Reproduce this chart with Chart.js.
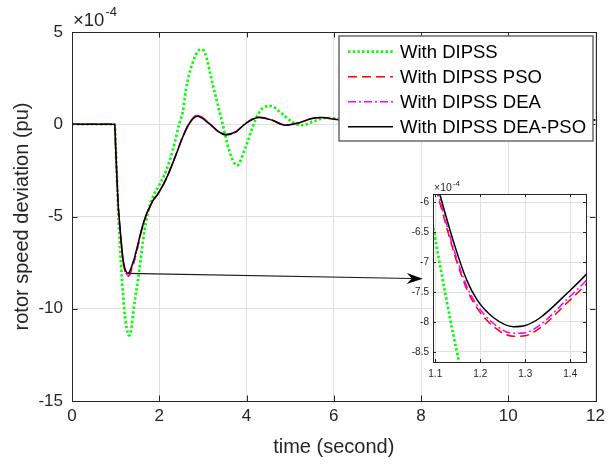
<!DOCTYPE html>
<html><head><meta charset="utf-8">
<script src="https://cdn.jsdelivr.net/npm/chart.js@4.4.0/dist/chart.umd.min.js"></script>
<style>
html,body{margin:0;padding:0;background:#fff;}
#wrap{position:relative;width:610px;height:464px;overflow:hidden;}
#main{position:absolute;left:0;top:0;}
#inset{position:absolute;left:395px;top:175px;}
</style></head><body>
<div id="wrap"><canvas id="main" width="610" height="464"></canvas><canvas id="inset" width="205" height="210"></canvas></div>
<script>
// ---- data (values in units of 1e-4 pu) ----
const seriesNames = ['With DIPSS', 'With DIPSS PSO', 'With DIPSS DEA', 'With DIPSS DEA-PSO'];

const tDipss = [0, 0.98, 1.0, 1.03, 1.06, 1.096, 1.152, 1.2, 1.25, 1.31, 1.36, 1.40, 1.45, 1.51, 1.59,
  1.66, 1.75, 1.85, 2.0, 2.16, 2.31, 2.46, 2.54, 2.61, 2.76, 2.95, 3.05, 3.22, 3.45, 3.6,
  3.78, 3.98, 4.2, 4.36, 4.55, 4.81, 5.04, 5.26, 5.57, 5.8, 6.1, 6.5, 7, 7.5, 8, 9, 10, 11, 12];
const vDipss = [0, 0, -1.1, -2.9, -4.8, -6.44, -8.64, -10.1, -11.0, -11.45, -11.1, -10.3, -9.4, -8.48, -7.03,
  -5.76, -4.7, -3.95, -3.3, -2.5, -1.41, 0.04, 0.67, 1.85, 3.3, 4.06, 3.85, 2.21, 0.04, -1.41,
  -2.23, -1.23, 0.22, 0.85, 0.98, 0.58, 0.13, -0.05, 0.18, 0.34, 0.3, 0.15, 0.1, 0.2, 0.28, 0.2, 0.25, 0.24, 0.23];

const tOpt = [0, 0.98, 1.0, 1.03, 1.06, 1.085, 1.11, 1.144, 1.17, 1.193, 1.23, 1.274, 1.30, 1.333, 1.393, 1.436,
  1.5, 1.6, 1.7, 1.78, 1.85, 1.97, 2.16, 2.35, 2.54, 2.69, 2.87, 3.14, 3.37, 3.52, 3.75, 3.98,
  4.28, 4.59, 4.89, 5.19, 5.5, 5.72, 6.03, 6.5, 7, 7.5, 8, 9, 10, 11, 12];
const vPso = [0, 0, -1.3, -3.0, -4.5, -5.3, -6.0, -6.9, -7.45, -7.77, -8.08, -8.24, -8.23, -8.1, -7.68, -7.36,
  -6.75, -5.72, -4.95, -4.52, -4.17, -3.78, -2.96, -1.86, -0.66, 0.08, 0.5, 0.07, -0.43, -0.58, -0.43, 0.05,
  0.39, 0.22, -0.06, 0.07, 0.31, 0.36, 0.27, 0.12, 0.15, 0.25, 0.28, 0.22, 0.25, 0.24, 0.23];
const vDea = [0, 0, -1.25, -2.95, -4.45, -5.25, -5.95, -6.85, -7.4, -7.72, -8.03, -8.19, -8.18, -8.05, -7.62, -7.3,
  -6.7, -5.7, -4.93, -4.5, -4.16, -3.77, -2.95, -1.85, -0.66, 0.07, 0.47, 0.06, -0.42, -0.57, -0.42, 0.05,
  0.38, 0.22, -0.05, 0.07, 0.31, 0.36, 0.27, 0.12, 0.15, 0.25, 0.28, 0.22, 0.25, 0.24, 0.23];
const vDeaPso = [0, 0, -1.2, -2.9, -4.4, -5.15, -5.86, -6.74, -7.3, -7.63, -7.93, -8.08, -8.06, -7.93, -7.52, -7.2,
  -6.6, -5.65, -4.9, -4.49, -4.15, -3.77, -2.95, -1.86, -0.69, 0.04, 0.43, 0.04, -0.42, -0.56, -0.42, 0.04,
  0.37, 0.22, -0.05, 0.07, 0.31, 0.36, 0.27, 0.12, 0.15, 0.25, 0.28, 0.22, 0.25, 0.24, 0.23];

const xTicksMain = [0, 2, 4, 6, 8, 10, 12];
const yTicksMain = [-15, -10, -5, 0, 5];
const xTicksInset = [1.1, 1.2, 1.3, 1.4];
const yTicksInset = [-6, -6.5, -7, -7.5, -8, -8.5];
const mainRangeX = [0, 12], mainRangeY = [-15, 5];
const insetRangeX = [1.095, 1.435], insetRangeY = [-8.67, -5.86];
const arrowFrom = [1.27, -8.08], arrowTo = [8.04, -8.37];
const exponentLabel = ['\u00d710', '-4'];

// ---- styles ----
const FONT = 'Liberation Sans, Arial, Helvetica, sans-serif';
const AX = '#262626';
const GRID = '#e0e0e0';
const styles = [
  {color: '#00ff00', width: 2.7, dash: [2.4, 2.3], order: 4},
  {color: '#ff0000', width: 1.5, dash: [9, 5], order: 3},
  {color: '#ff00ff', width: 1.5, dash: [8, 3, 2, 3], order: 2},
  {color: '#000000', width: 1.5, dash: [], order: 1}
];

function makeDatasets() {
  const xs = [tDipss, tOpt, tOpt, tOpt];
  const ys = [vDipss, vPso, vDea, vDeaPso];
  return seriesNames.map((name, k) => ({
    label: name,
    data: xs[k].map((x, i) => ({x: x, y: ys[k][i]})),
    borderColor: styles[k].color,
    backgroundColor: styles[k].color,
    borderWidth: styles[k].width,
    borderDash: styles[k].dash,
    borderCapStyle: 'butt',
    pointRadius: 0,
    fill: false,
    cubicInterpolationMode: 'monotone',
    order: styles[k].order
  }));
}

function framePlugin(id, tickLen, fillWhite) {
  return {
    id: id,
    beforeDraw(chart) {
      if (!fillWhite) return;
      const a = chart.chartArea, ctx = chart.ctx;
      ctx.save(); ctx.fillStyle = '#ffffff';
      ctx.fillRect(a.left, a.top, a.right - a.left, a.bottom - a.top);
      ctx.restore();
    },
    afterDatasetsDraw(chart) {
      const ctx = chart.ctx, a = chart.chartArea, sx = chart.scales.x, sy = chart.scales.y;
      ctx.save();
      ctx.strokeStyle = AX; ctx.lineWidth = 1; ctx.setLineDash([]);
      ctx.beginPath();
      sx.ticks.forEach(t => {
        const p = Math.round(sx.getPixelForValue(t.value)) + 0.5;
        ctx.moveTo(p, a.bottom); ctx.lineTo(p, a.bottom - tickLen);
        ctx.moveTo(p, a.top); ctx.lineTo(p, a.top + tickLen);
      });
      sy.ticks.forEach(t => {
        const p = Math.round(sy.getPixelForValue(t.value)) + 0.5;
        ctx.moveTo(a.left, p); ctx.lineTo(a.left + tickLen, p);
        ctx.moveTo(a.right, p); ctx.lineTo(a.right - tickLen, p);
      });
      ctx.stroke();
      ctx.strokeRect(Math.round(a.left) + 0.5, Math.round(a.top) + 0.5,
        Math.round(a.right - a.left), Math.round(a.bottom - a.top));
      ctx.restore();
    }
  };
}

function drawExponent(ctx, x, y, big, small) {
  ctx.save();
  ctx.fillStyle = AX; ctx.textBaseline = 'alphabetic'; ctx.textAlign = 'left';
  ctx.font = big + 'px ' + FONT;
  ctx.fillText(exponentLabel[0], x, y);
  const w = ctx.measureText(exponentLabel[0]).width;
  ctx.font = small + 'px ' + FONT;
  ctx.fillText(exponentLabel[1], x + w + 1, y - big * 0.52);
  ctx.restore();
}

const mainExtras = {
  id: 'mainExtras',
  afterDatasetsDraw(chart) {
    const ctx = chart.ctx, sx = chart.scales.x, sy = chart.scales.y;
    const x0 = sx.getPixelForValue(arrowFrom[0]), y0 = sy.getPixelForValue(arrowFrom[1]);
    const x1 = sx.getPixelForValue(arrowTo[0]), y1 = sy.getPixelForValue(arrowTo[1]);
    const ang = Math.atan2(y1 - y0, x1 - x0);
    const L = 16, W = 5.5, notch = 11;
    ctx.save();
    ctx.strokeStyle = '#1a1a1a'; ctx.lineWidth = 1.2; ctx.setLineDash([]);
    ctx.beginPath();
    ctx.moveTo(x0, y0);
    ctx.lineTo(x1 - notch * Math.cos(ang), y1 - notch * Math.sin(ang));
    ctx.stroke();
    ctx.fillStyle = '#000';
    ctx.translate(x1, y1); ctx.rotate(ang);
    ctx.beginPath();
    ctx.moveTo(0, 0); ctx.lineTo(-L, -W); ctx.lineTo(-notch, 0); ctx.lineTo(-L, W); ctx.closePath();
    ctx.fill();
    ctx.restore();
  },
  afterDraw(chart) {
    const ctx = chart.ctx, a = chart.chartArea;
    drawExponent(ctx, a.left + 1, a.top - 6, 18.5, 13);
    // legend box
    const bx = 339, by = 36, bw = 254, bh = 105;
    ctx.save();
    ctx.fillStyle = '#ffffff';
    ctx.fillRect(bx, by, bw, bh);
    ctx.strokeStyle = '#6a6a6a'; ctx.lineWidth = 1.5; ctx.setLineDash([]);
    ctx.strokeRect(bx, by, bw, bh);
    ctx.font = '18.5px ' + FONT; ctx.textBaseline = 'middle'; ctx.textAlign = 'left';
    seriesNames.forEach((name, k) => {
      const yy = by + 15.7 + 25 * k;
      ctx.strokeStyle = styles[k].color; ctx.lineWidth = styles[k].width;
      ctx.lineCap = 'butt'; ctx.setLineDash(styles[k].dash);
      ctx.beginPath(); ctx.moveTo(bx + 9, yy); ctx.lineTo(bx + 54, yy); ctx.stroke();
      ctx.fillStyle = '#000';
      ctx.fillText(name, bx + 61, yy + 1);
    });
    ctx.restore();
  }
};

const insetExtras = {
  id: 'insetExtras',
  afterDraw(chart) {
    const a = chart.chartArea;
    drawExponent(chart.ctx, a.left + 1, a.top - 3, 10.5, 8);
  }
};

const fmt = v => String(+Number(v).toFixed(2));

function scaleCfg(range, ticksArr, fontSize, pad, fitProp, fitVal, title) {
  const c = {
    type: 'linear', min: range[0], max: range[1],
    afterBuildTicks: s => { s.ticks = ticksArr.map(v => ({value: v})); },
    afterFit: s => { s[fitProp] = fitVal; },
    grid: {color: GRID, lineWidth: 1, drawTicks: false},
    border: {display: false},
    ticks: {font: {family: FONT, size: fontSize}, color: AX, padding: pad, maxRotation: 0, autoSkip: false, callback: fmt}
  };
  if (title) c.title = title;
  return c;
}

new Chart(document.getElementById('main'), {
  type: 'line',
  data: {datasets: makeDatasets()},
  options: {
    responsive: false, animation: false, devicePixelRatio: 1,
    layout: {padding: {top: 32, right: 11, left: 0, bottom: 0}},
    plugins: {legend: {display: false}, tooltip: {enabled: false}},
    scales: {
      x: scaleCfg(mainRangeX, xTicksMain, 17, 5, 'height', 63,
        {display: true, text: 'time (second)', color: AX, font: {family: FONT, size: 20}, padding: {top: 0, bottom: 5}}),
      y: scaleCfg(mainRangeY, yTicksMain, 17, 9, 'width', 72,
        {display: true, text: 'rotor speed deviation (pu)', color: AX, font: {family: FONT, size: 20}, padding: {top: 10, bottom: 0}})
    }
  },
  plugins: [framePlugin('mainFrame', 5.5, false), mainExtras]
});

new Chart(document.getElementById('inset'), {
  type: 'line',
  data: {datasets: makeDatasets()},
  options: {
    responsive: false, animation: false, devicePixelRatio: 1,
    layout: {padding: {top: 19, right: 14, left: 0, bottom: 0}},
    plugins: {legend: {display: false}, tooltip: {enabled: false}},
    scales: {
      x: scaleCfg(insetRangeX, xTicksInset, 10, 6, 'height', 23, null),
      y: scaleCfg(insetRangeY, yTicksInset, 10, 4, 'width', 38, null)
    }
  },
  plugins: [framePlugin('insetFrame', 3, true), insetExtras]
});
</script>
</body></html>
